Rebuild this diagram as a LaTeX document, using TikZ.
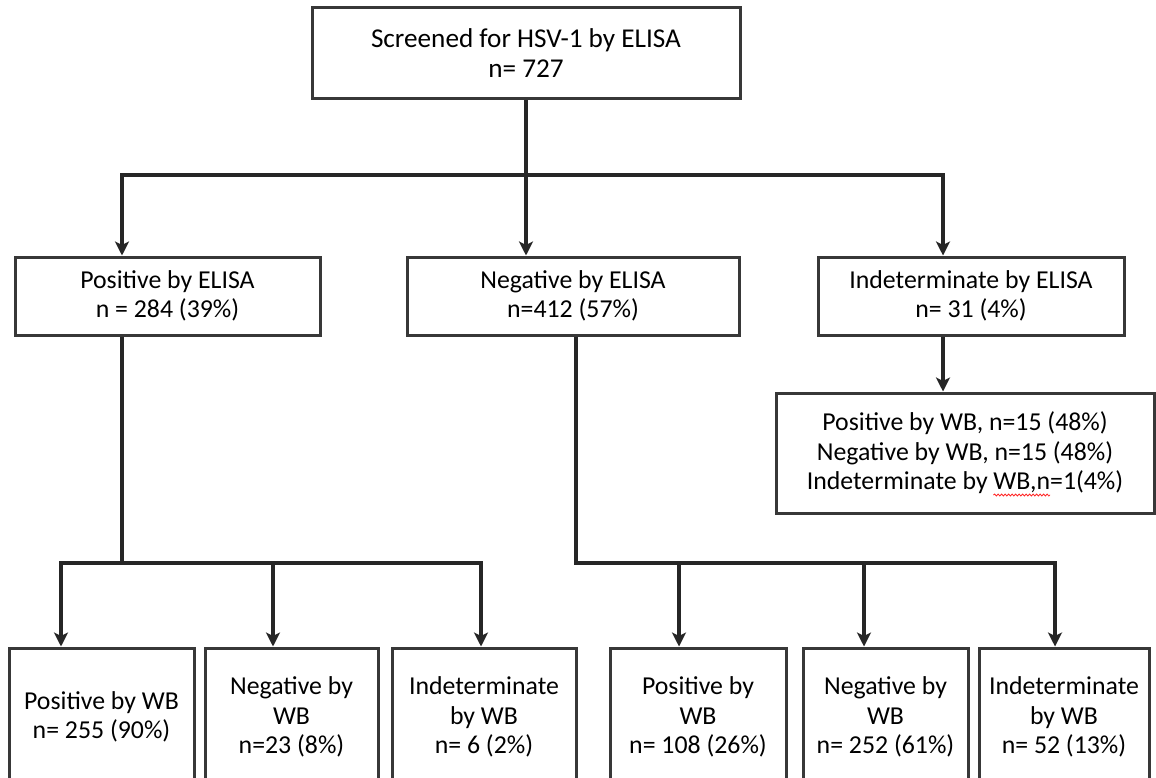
\documentclass[tikz,border=0pt]{standalone}
\usepackage{fontspec}
\setmainfont{Carlito}
\usetikzlibrary{arrows.meta,shadows,calc,decorations.pathmorphing}
\begin{document}
\begin{tikzpicture}[x=1pt,y=-1pt,
  box/.style={draw=black!78, line width=3pt, fill=white, align=center, inner sep=0pt,
    font=\fontsize{25.8}{29.5}\selectfont,
    drop shadow={opacity=0.25, shadow xshift=1.5pt, shadow yshift=-1.5pt}},
  conn/.style={line width=3.4pt, draw=black!85},
  arr/.style={conn, -{Stealth[length=14pt,width=14pt,inset=3.5pt]}},
  spell/.style={draw=red!85, line width=0.8pt, decorate, decoration={snake, amplitude=1pt, segment length=3.5pt}}]
\useasboundingbox (0,0) rectangle (1156,778);
\clip (0,0) rectangle (1156,778);
\fill[white] (0,0) rectangle (1156,778);

% text widths for the spell-check underline
\begingroup\fontsize{25.8}{29.5}\selectfont
\pgfmathsetmacro\wfull{width("Indeterminate by WB,n=1(4\%)")}
\pgfmathsetmacro\wpre{width("Indeterminate by ")}
\pgfmathsetmacro\wmid{width("WB,n")}
\xdef\wfullG{\wfull}\xdef\wpreG{\wpre}\xdef\wmidG{\wmid}
\endgroup

% top
\node[box, font=\fontsize{27.2}{30}\selectfont, minimum width=428pt, minimum height=91pt] (top) at (526,53.5) {Screened for HSV-1 by ELISA\\n= 727};

% level 2
\node[box, minimum width=305pt, minimum height=78pt] (pos) at (167.5,296) {Positive by ELISA\\n = 284 (39\%)};
\node[box, minimum width=332pt, minimum height=78pt] (neg) at (573,296) {Negative by ELISA\\n=412 (57\%)};
\node[box, minimum width=306pt, minimum height=78pt] (ind) at (971,296) {Indeterminate by ELISA\\n= 31 (4\%)};

% WB result for indeterminate
\node[box, minimum width=378pt, minimum height=120pt] (wb) at (965,453) {Positive by WB, n=15 (48\%)\\Negative by WB, n=15 (48\%)\\Indeterminate by WB,n=1(4\%)};
\coordinate (wa) at ($(wb.center)+(-\wfullG/2+\wpreG,42)$);
\coordinate (wz) at ($(wa)+(\wmidG,0)$);
\draw[spell] (wa) -- (wz);

% bottom row
\node[box, minimum width=185pt, minimum height=138pt] (b1) at (101.5,717) {Positive by WB\\n= 255 (90\%)};
\node[box, minimum width=173pt, minimum height=138pt] (b2) at (291.5,717) {Negative by\\WB\\n=23 (8\%)};
\node[box, minimum width=184pt, minimum height=138pt] (b3) at (484,717) {Indeterminate\\by WB\\n= 6 (2\%)};
\node[box, minimum width=176pt, minimum height=138pt] (b4) at (698,717) {Positive by\\WB\\n= 108 (26\%)};
\node[box, minimum width=165pt, minimum height=138pt] (b5) at (885.5,717) {Negative by\\WB\\n= 252 (61\%)};
\node[box, minimum width=170pt, minimum height=138pt] (b6) at (1064,717) {Indeterminate\\by WB\\n= 52 (13\%)};

% junction coordinates
\coordinate (j1) at (526,175);
\coordinate (j1l) at (122,175);
\coordinate (j1r) at (943,175);
\coordinate (j2) at (122,563);
\coordinate (j2l) at (61,563);
\coordinate (j2m) at (273,563);
\coordinate (j2r) at (481,563);
\coordinate (j3) at (576,563);
\coordinate (j3a) at (679,563);
\coordinate (j3b) at (864,563);
\coordinate (j3c) at (1055,563);

% connectors level 1
\draw[conn] (top.south) -- (j1);
\draw[conn, line cap=rect] (j1l) -- (j1r);
\draw[arr] (j1l) -- (j1l |- pos.north);
\draw[arr] (j1) -- (j1 |- neg.north);
\draw[arr] (j1r) -- (j1r |- ind.north);
\draw[arr] (j1r |- ind.south) -- (j1r |- wb.north);

% connectors from positive
\draw[conn] (j2 |- pos.south) -- (j2);
\draw[conn, line cap=rect] (j2l) -- (j2r);
\draw[arr] (j2l) -- (j2l |- b1.north);
\draw[arr] (j2m) -- (j2m |- b2.north);
\draw[arr] (j2r) -- (j2r |- b3.north);

% connectors from negative
\draw[conn] (j3 |- neg.south) -- (j3);
\draw[conn, line cap=rect] (j3) -- (j3c);
\draw[arr] (j3a) -- (j3a |- b4.north);
\draw[arr] (j3b) -- (j3b |- b5.north);
\draw[arr] (j3c) -- (j3c |- b6.north);
\end{tikzpicture}
\end{document}
